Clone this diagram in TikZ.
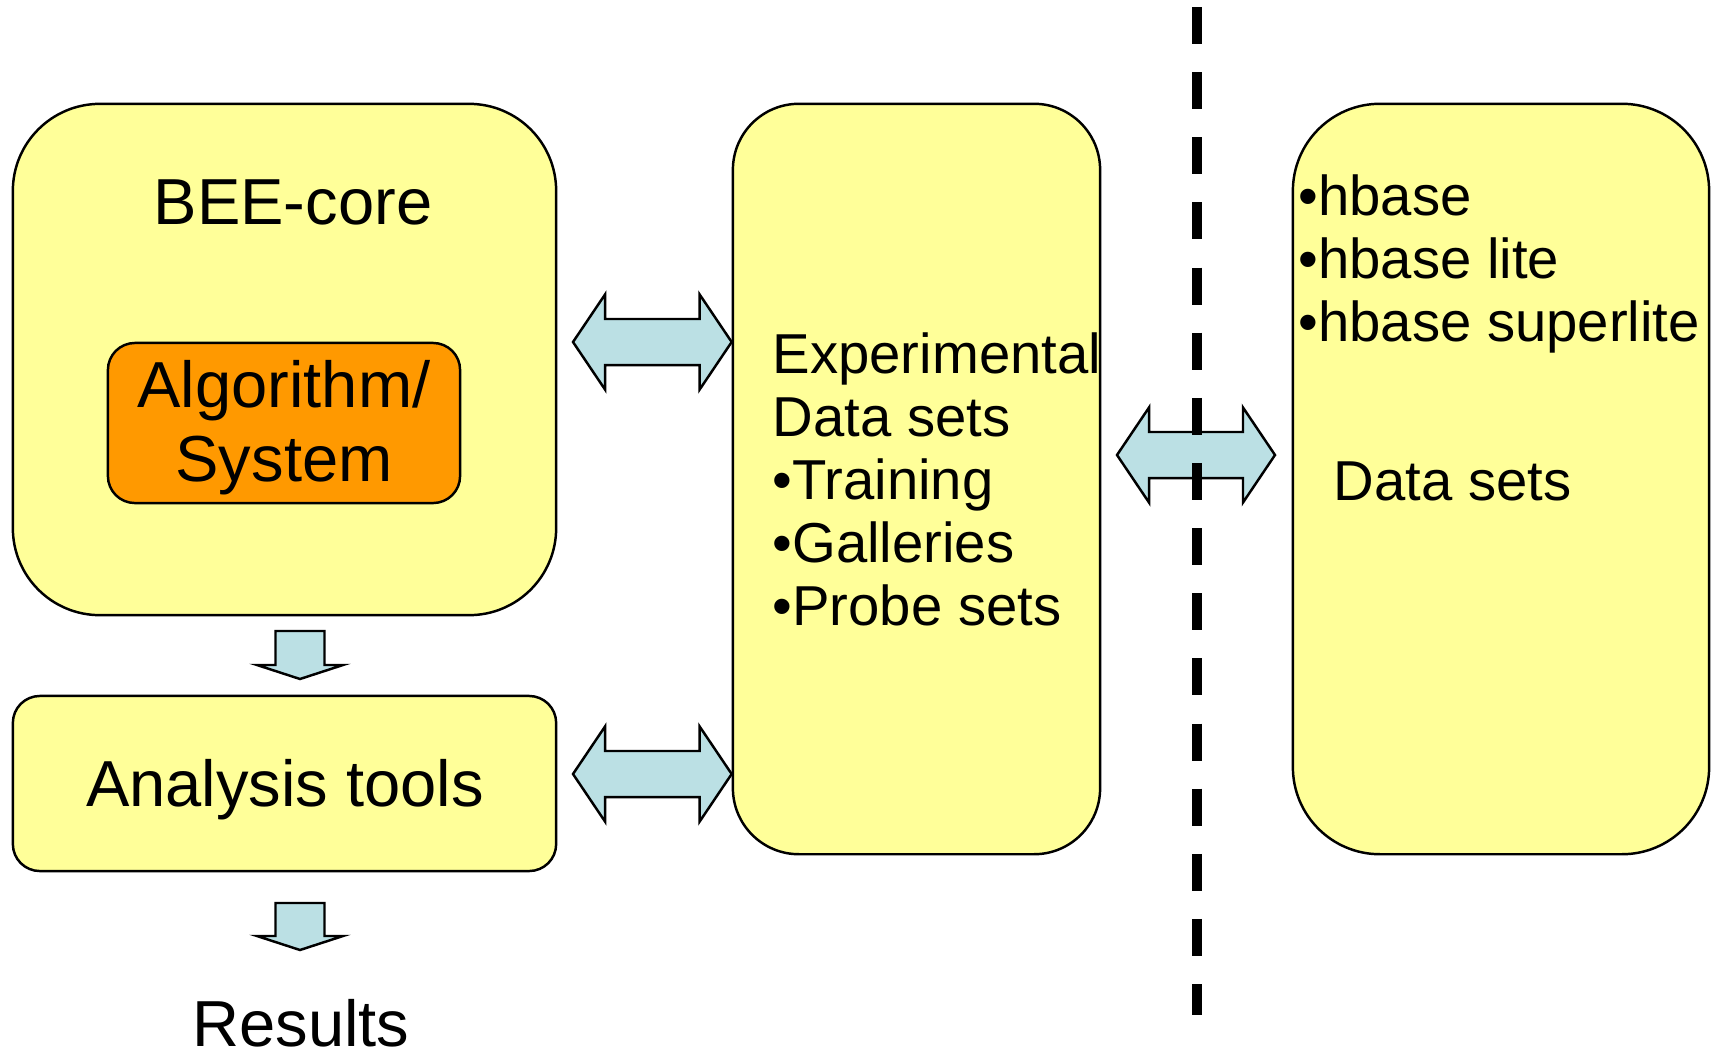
\documentclass[tikz,border=0pt]{standalone}
\usepackage{fontspec}
\setmainfont{Liberation Sans}
\usepackage{xcolor}
\usepackage{tikz}
\usetikzlibrary{calc, positioning}

\definecolor{boxyellow}{RGB}{255,255,153}
\definecolor{coreorange}{RGB}{255,153,0}
\definecolor{arrowblue}{RGB}{187,224,228}

\tikzset{
  panel/.style={draw, line width=0.7pt, fill=boxyellow, inner sep=0pt},
  corebox/.style={draw, line width=0.7pt, fill=coreorange, inner sep=0pt},
  blockarrow/.style={draw, line width=0.7pt, fill=arrowblue, line join=miter},
  bigtxt/.style={font=\fontsize{18.5}{21}\selectfont, inner sep=0pt},
  listtxt/.style={font=\fontsize{16}{17.9}\selectfont, inner sep=0pt, align=left},
  sepline/.style={line width=2.6pt, dash pattern=on 0.37cm off 0.281cm}
}

% fat two-headed arrow between a left tip and a right tip
\newcommand{\dblarrow}[2]{%
  \draw[blockarrow] let \p1=(#1), \p2=(#2) in
    (\x1,\y1) -- ({\x1+0.32cm},{\y1+0.475cm}) -- ({\x1+0.32cm},{\y1+0.23cm})
    -- ({\x2-0.32cm},{\y1+0.23cm}) -- ({\x2-0.32cm},{\y1+0.475cm}) -- (\x2,\y1)
    -- ({\x2-0.32cm},{\y1-0.475cm}) -- ({\x2-0.32cm},{\y1-0.23cm})
    -- ({\x1+0.32cm},{\y1-0.23cm}) -- ({\x1+0.32cm},{\y1-0.475cm}) -- cycle;}

% fat downward arrow from a top point to its tip
\newcommand{\dnarrow}[2]{%
  \draw[blockarrow] let \p1=(#1), \p2=(#2) in
    ({\x1-0.245cm},\y1) -- ({\x1+0.245cm},\y1) -- ({\x1+0.245cm},{\y2+0.14cm})
    -- ({\x1+0.43cm},{\y2+0.14cm}) -- (\x1,\y2) -- ({\x1-0.43cm},{\y2+0.14cm})
    -- ({\x1-0.245cm},{\y2+0.14cm}) -- cycle;}

\begin{document}
\begin{tikzpicture}[x=0.01cm, y=-0.01cm]
    \useasboundingbox (0,0) rectangle (1715,1057);

    % boxes
    \node[panel, rounded corners=0.87cm, minimum width=5.43cm, minimum height=5.11cm] (core) at (284.5,359.5) {};
    \node[corebox, rounded corners=0.27cm, minimum width=3.52cm, minimum height=1.60cm] (algo) at (284,423) {};
    \node[panel, rounded corners=0.27cm, minimum width=5.43cm, minimum height=1.75cm] (tools) at (284.5,783.5) {};
    \node[panel, rounded corners=0.66cm, minimum width=3.67cm, minimum height=7.50cm] (exp) at (916.5,479) {};
    \node[panel, rounded corners=0.87cm, minimum width=4.16cm, minimum height=7.50cm] (hb) at (1501,479) {};

    % arrow ends
    \coordinate (a1) at (573,342);
    \coordinate (a2) at (573,774);
    \coordinate (a3l) at (1117,455);
    \coordinate (a3r) at (1275,455);
    \coordinate (d1top) at (300,631);
    \coordinate (d1tip) at (300,679);
    \coordinate (d2top) at (300,903);
    \coordinate (d2tip) at (300,950);

    \dblarrow{a1}{a1 -| exp.west}
    \dblarrow{a2}{a2 -| exp.west}
    \dblarrow{a3l}{a3r}
    \dnarrow{d1top}{d1tip}
    \dnarrow{d2top}{d2tip}

    % texts
    \node[bigtxt, anchor=base] (coretxt) at (293,224) {BEE-core};
    \node[bigtxt, anchor=base] (algotxt) at (284,407) {Algorithm/};
    \node[bigtxt, anchor=base] (systxt) at (284,481) {System};
    \node[bigtxt, anchor=base] (toolstxt) at (285,806) {Analysis tools};
    \node[bigtxt, anchor=base] (restxt) at (301,1046) {Results};
    \node[listtxt, anchor=base west] (exptxt) at (772,625)
        {Experimental\\Data sets\\•Training\\•Galleries\\•Probe sets};
    \node[listtxt, anchor=base west] (hbtxt) at (1298,341)
        {•hbase\\•hbase lite\\•hbase superlite};
    \node[listtxt, anchor=base west] (dstxt) at (1333,500) {Data sets};

    % separator
    \draw[sepline] (1197,7) -- (1197,1015);
\end{tikzpicture}
\end{document}
